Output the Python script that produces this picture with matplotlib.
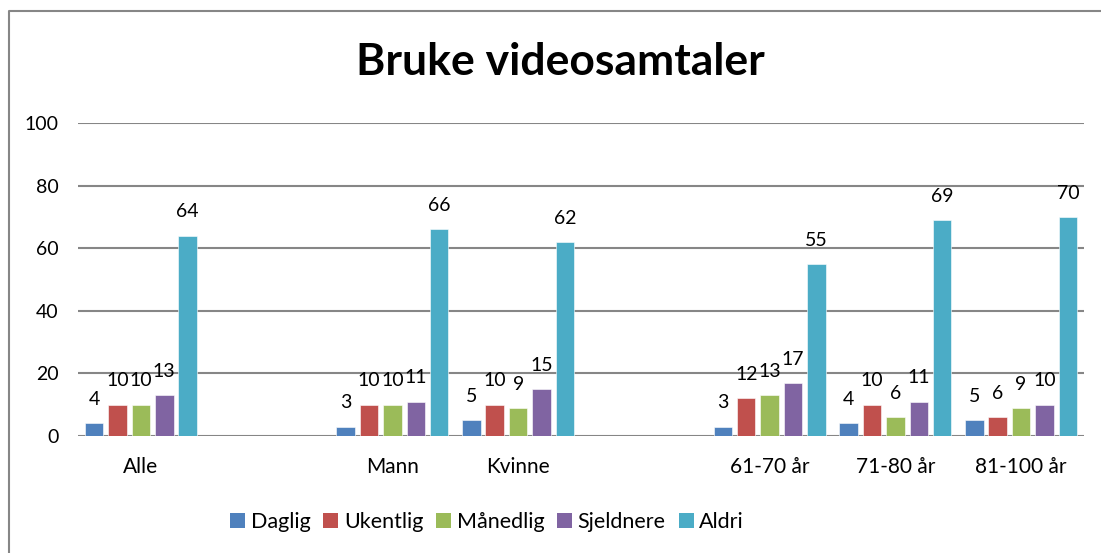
import numpy as np
import matplotlib
matplotlib.use("Agg")
import matplotlib.pyplot as plt
from matplotlib.lines import Line2D
from matplotlib.patches import Patch

plt.rcParams['font.family'] = ['Lato', 'DejaVu Sans']

# tomme plasser mellom gruppene, som i originalen
kategorier = ["Alle", "", "Mann", "Kvinne", "", "61-70 år", "71-80 år", "81-100 år"]
serier = ["Daglig", "Ukentlig", "Månedlig", "Sjeldnere", "Aldri"]
daglig = [4, None, 3, 5, None, 3, 4, 5]
ukentlig = [10, None, 10, 10, None, 12, 10, 6]
maanedlig = [10, None, 10, 9, None, 13, 6, 9]
sjeldnere = [13, None, 11, 15, None, 17, 11, 10]
aldri = [64, None, 66, 62, None, 55, 69, 70]
farger = ["#4F81BD", "#C0504D", "#9BBB59", "#8064A2", "#4BACC6"]

W, H = 1101, 553
fig = plt.figure(figsize=(W / 100, H / 100), dpi=100)
ax = fig.add_axes([78 / W, (H - 436) / H, (1084 - 78) / W, (436 - 123) / H])

x = np.arange(len(kategorier))
steg = 0.186
bredde = 0.147
for k, (navn, verdier) in enumerate(zip(serier, [daglig, ukentlig, maanedlig, sjeldnere, aldri])):
    v = np.array([np.nan if a is None else a for a in verdier], dtype=float)
    pos = x + (k - 2) * steg
    ax.bar(pos, v, width=bredde, color=farger[k], edgecolor="white", linewidth=0.4, zorder=3)
    for p, val in zip(pos, v):
        if not np.isnan(val):
            ax.annotate(f"{int(val)}", (p, val), xytext=(0, 11), textcoords="offset points",
                        ha="center", va="bottom", fontsize=14)

ax.set_xlim(-0.5, len(kategorier) - 0.5)
ax.set_ylim(0, 100)
ax.set_yticks([0, 20, 40, 60, 80, 100])
ax.set_xticks(x)
ax.set_xticklabels(kategorier, fontsize=15)
ax.tick_params(axis="x", length=0, pad=15)
ax.tick_params(axis="y", length=0, pad=14, labelsize=14)
ax.yaxis.grid(True, color="#868686", linewidth=1.5, zorder=0)
for s in ax.spines.values():
    s.set_visible(False)

fig.text(560 / W, 1 - 62 / H, "Bruke videosamtaler", ha="center", va="center",
         fontsize=32, fontweight="bold")

handles = [Patch(facecolor=c) for c in farger]
fig.legend(handles, serier, loc="center", bbox_to_anchor=(487 / W, (H - 522) / H), ncol=5,
           frameon=False, fontsize=15.5, handlelength=0.7, handleheight=0.7,
           handletextpad=0.25, columnspacing=0.6)

# ramme rundt diagrammet (kun venstre og topp synlig)
fig.add_artist(Line2D([9 / W, 9 / W, 1], [0, 1 - 11 / H, 1 - 11 / H],
                      transform=fig.transFigure, color="#868686", linewidth=1.5))

fig.savefig("out.png", dpi=100)
